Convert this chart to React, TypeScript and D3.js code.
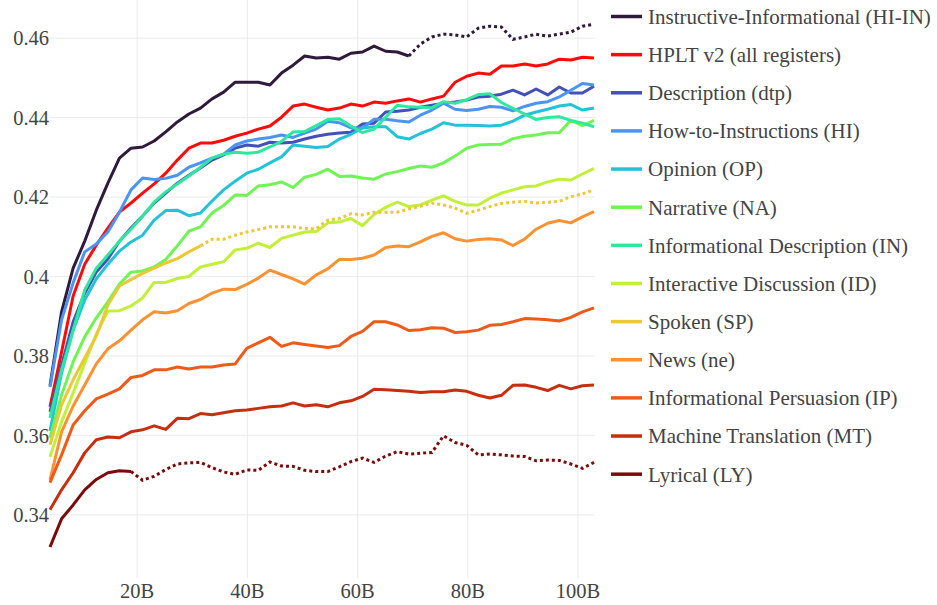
import React from 'react';
import * as d3 from 'd3';

// training tokens (billions)
const tokensB = [
  4.2, 6.3, 8.4, 10.5, 12.6, 14.7, 16.8, 18.9, 21.0, 23.1, 25.2, 27.3, 29.4, 31.5, 33.6, 35.7,
  37.8, 39.9, 42.0, 44.1, 46.2, 48.3, 50.4, 52.5, 54.6, 56.7, 58.8, 60.9, 63.0, 65.1, 67.2, 69.3,
  71.4, 73.5, 75.6, 77.7, 79.8, 81.9, 84.0, 86.1, 88.2, 90.3, 92.4, 94.5, 96.6, 98.7, 100.8, 102.9,
];

const hiIn = [.3725, .3911, .4021, .4089, .4167, .4235, .4298, .4323, .4326, .4341, .4364, .4389, .4409, .4424, .4447, .4464, .4489, .4489, .4489, .4482, .4512, .4532, .4555, .4550, .4552, .4547, .4562, .4565, .4580, .4567, .4565, .4555, .4585, .4603, .4610, .4608, .4603, .4625, .4630, .4628, .4597, .4603, .4610, .4605, .4610, .4615, .4630, .4635];
const hplt = [.3672, .3810, .3951, .4031, .4079, .4122, .4162, .4185, .4210, .4233, .4260, .4293, .4323, .4336, .4336, .4343, .4353, .4361, .4371, .4379, .4401, .4429, .4434, .4426, .4419, .4424, .4434, .4429, .4439, .4436, .4442, .4447, .4439, .4447, .4454, .4489, .4504, .4512, .4509, .4530, .4530, .4535, .4530, .4535, .4547, .4545, .4552, .4550];
const dtp = [.3659, .3777, .3886, .3958, .4011, .4044, .4089, .4122, .4152, .4185, .4210, .4235, .4255, .4273, .4293, .4306, .4323, .4331, .4328, .4338, .4336, .4338, .4346, .4353, .4358, .4361, .4363, .4384, .4386, .4414, .4416, .4419, .4426, .4431, .4436, .4439, .4444, .4452, .4454, .4459, .4469, .4457, .4472, .4457, .4477, .4462, .4462, .4479];
const hi = [.3722, .3891, .3984, .4062, .4082, .4112, .4162, .4218, .4248, .4244, .4247, .4255, .4275, .4286, .4298, .4308, .4331, .4341, .4346, .4350, .4356, .4350, .4361, .4371, .4391, .4387, .4374, .4374, .4396, .4396, .4392, .4389, .4406, .4419, .4436, .4421, .4418, .4421, .4428, .4426, .4417, .4428, .4436, .4440, .4452, .4469, .4486, .4482];
const op = [.3611, .3757, .3865, .3941, .3994, .4031, .4064, .4087, .4104, .4142, .4166, .4167, .4153, .4160, .4190, .4218, .4240, .4260, .4270, .4286, .4301, .4331, .4328, .4325, .4327, .4346, .4358, .4374, .4377, .4377, .4352, .4346, .4360, .4371, .4387, .4381, .4381, .4380, .4379, .4381, .4391, .4406, .4414, .4421, .4429, .4433, .4419, .4424];
const na = [.3594, .3702, .3785, .3848, .3896, .3936, .3981, .4011, .4014, .4024, .4043, .4077, .4114, .4125, .4160, .4179, .4205, .4204, .4228, .4231, .4238, .4224, .4250, .4257, .4270, .4252, .4253, .4248, .4245, .4258, .4264, .4272, .4278, .4275, .4286, .4303, .4323, .4331, .4332, .4333, .4347, .4353, .4356, .4362, .4362, .4393, .4380, .4393];
const inf = [.3644, .3765, .3865, .3966, .4021, .4054, .4089, .4119, .4152, .4187, .4213, .4233, .4253, .4275, .4298, .4308, .4313, .4310, .4313, .4326, .4340, .4364, .4365, .4380, .4395, .4397, .4379, .4362, .4371, .4401, .4431, .4427, .4426, .4425, .4440, .4436, .4445, .4458, .4460, .4438, .4423, .4409, .4395, .4400, .4402, .4393, .4386, .4377];
const idd = [.3546, .3634, .3707, .3782, .3855, .3913, .3914, .3926, .3946, .3985, .3985, .3995, .4000, .4024, .4031, .4037, .4067, .4071, .4084, .4073, .4096, .4104, .4112, .4113, .4135, .4137, .4146, .4128, .4156, .4174, .4187, .4176, .4180, .4192, .4203, .4189, .4180, .4180, .4197, .4210, .4218, .4226, .4228, .4238, .4245, .4243, .4258, .4272];
const sp = [.3576, .3677, .3740, .3795, .3850, .3928, .3976, .3992, .4008, .4021, .4034, .4045, .4062, .4077, .4094, .4094, .4104, .4112, .4118, .4125, .4125, .4125, .4121, .4120, .4142, .4146, .4158, .4155, .4162, .4162, .4162, .4170, .4177, .4185, .4180, .4172, .4159, .4167, .4176, .4184, .4187, .4189, .4185, .4187, .4189, .4201, .4208, .4218];
const news = [.3488, .3609, .3674, .3727, .3780, .3818, .3838, .3865, .3891, .3911, .3908, .3914, .3932, .3942, .3958, .3968, .3967, .3980, .3996, .4016, .4005, .3994, .3981, .4004, .4019, .4043, .4043, .4046, .4054, .4073, .4077, .4075, .4087, .4101, .4110, .4095, .4089, .4093, .4095, .4092, .4078, .4094, .4119, .4134, .4141, .4135, .4150, .4163];
const ip = [.3481, .3551, .3626, .3662, .3692, .3704, .3717, .3746, .3751, .3765, .3765, .3772, .3767, .3772, .3772, .3777, .3780, .3819, .3833, .3847, .3824, .3833, .3829, .3825, .3821, .3826, .3849, .3862, .3886, .3886, .3878, .3864, .3866, .3871, .3870, .3859, .3861, .3865, .3877, .3879, .3886, .3894, .3893, .3891, .3888, .3897, .3911, .3921];
const mt = [.3413, .3463, .3506, .3556, .3589, .3596, .3594, .3609, .3614, .3624, .3615, .3643, .3642, .3655, .3652, .3657, .3662, .3664, .3668, .3672, .3674, .3682, .3674, .3677, .3672, .3682, .3687, .3698, .3716, .3715, .3713, .3711, .3708, .3710, .3710, .3714, .3711, .3701, .3694, .3701, .3726, .3727, .3721, .3713, .3726, .3717, .3725, .3727];
const ly = [.3319, .3390, .3425, .3463, .3489, .3506, .3511, .3509, .3487, .3497, .3514, .3528, .3531, .3532, .3519, .3508, .3502, .3513, .3512, .3533, .3523, .3522, .3512, .3509, .3509, .3521, .3534, .3543, .3532, .3548, .3559, .3553, .3555, .3557, .3599, .3582, .3575, .3551, .3553, .3551, .3548, .3547, .3536, .3538, .3537, .3528, .3517, .3532];

const yTicks = [0.34, 0.36, 0.38, 0.4, 0.42, 0.44, 0.46];
const xTicks = [20, 40, 60, 80, 100];

// dottedFrom: index where the line turns dotted (null = solid all the way)
const series = [
  { name: 'Instructive-Informational (HI-IN)', values: hiIn, color: '#2f1a3c', dottedFrom: 31 },
  { name: 'HPLT v2 (all registers)', values: hplt, color: '#ff0a0a', dottedFrom: null },
  { name: 'Description (dtp)', values: dtp, color: '#4350b8', dottedFrom: null },
  { name: 'How-to-Instructions (HI)', values: hi, color: '#4a94f4', dottedFrom: null },
  { name: 'Opinion (OP)', values: op, color: '#22c2d8', dottedFrom: null },
  { name: 'Narrative (NA)', values: na, color: '#70f454', dottedFrom: null },
  { name: 'Informational Description (IN)', values: inf, color: '#2ee89e', dottedFrom: null },
  { name: 'Interactive Discussion (ID)', values: idd, color: '#c2ef38', dottedFrom: null },
  { name: 'Spoken (SP)', values: sp, color: '#ecc834', dottedFrom: 13 },
  { name: 'News (ne)', values: news, color: '#fb9232', dottedFrom: null },
  { name: 'Informational Persuasion (IP)', values: ip, color: '#ee5a18', dottedFrom: null },
  { name: 'Machine Translation (MT)', values: mt, color: '#c62f0e', dottedFrom: null },
  { name: 'Lyrical (LY)', values: ly, color: '#7a0b0b', dottedFrom: 7 },
];

const W = 937;
const H = 605;
const serif = "'Liberation Serif', 'Times New Roman', serif";
const tickStyle = { fontFamily: serif, fontSize: '20.5px' };
const legendStyle = { fontFamily: serif, fontSize: '21px' };
const textColor = '#444';

export default function App() {
  const x = d3.scaleLinear().domain([4.2, 102.9]).range([50, 594]);
  const y = d3.scaleLinear().domain([0.3236, 0.4696]).range([580, 0]);

  const line = d3.line<[number, number]>()
    .x(d => x(d[0]))
    .y(d => y(d[1]));

  const pts = (vals: number[]) => vals.map((v, i) => [tokensB[i], v] as [number, number]);

  return (
    <svg width={W} height={H} style={{ position: 'absolute', left: 0, top: 0, background: '#fff' }}>
      {/* grid */}
      {xTicks.map(t => (
        <line key={'gx' + t} x1={x(t)} x2={x(t)} y1={0} y2={578} stroke="#ebebeb" strokeWidth={1} />
      ))}
      {yTicks.map(t => (
        <line key={'gy' + t} x1={50} x2={595} y1={y(t)} y2={y(t)} stroke="#ebebeb" strokeWidth={1} />
      ))}

      {/* lines */}
      {series.map(s => {
        const all = pts(s.values);
        const solid = s.dottedFrom == null ? all : all.slice(0, s.dottedFrom + 1);
        const dotted = s.dottedFrom == null ? null : all.slice(s.dottedFrom);
        return (
          <g key={s.name}>
            <path d={line(solid) || ''} fill="none" stroke={s.color} strokeWidth={3} strokeLinejoin="round" />
            {dotted && (
              <path d={line(dotted) || ''} fill="none" stroke={s.color} strokeWidth={3} strokeDasharray="3,3" />
            )}
          </g>
        );
      })}

      {/* y tick labels */}
      {yTicks.map(t => (
        <text key={'ty' + t} x={49} y={y(t)} dy="0.35em" textAnchor="end" style={tickStyle} fill={textColor}>
          {d3.format('~g')(t)}
        </text>
      ))}

      {/* x tick labels */}
      {xTicks.map(t => (
        <text key={'tx' + t} x={x(t)} y={598} textAnchor="middle" style={tickStyle} fill={textColor}>
          {t + 'B'}
        </text>
      ))}

      {/* legend */}
      {series.map((s, k) => {
        const ly0 = 16.5 + k * 38.14;
        return (
          <g key={'lg' + k}>
            <line x1={611} x2={642} y1={ly0} y2={ly0} stroke={s.color} strokeWidth={3.5} />
            <text x={648} y={ly0} dy="0.35em" style={legendStyle} fill={textColor}>
              {s.name}
            </text>
          </g>
        );
      })}
    </svg>
  );
}
